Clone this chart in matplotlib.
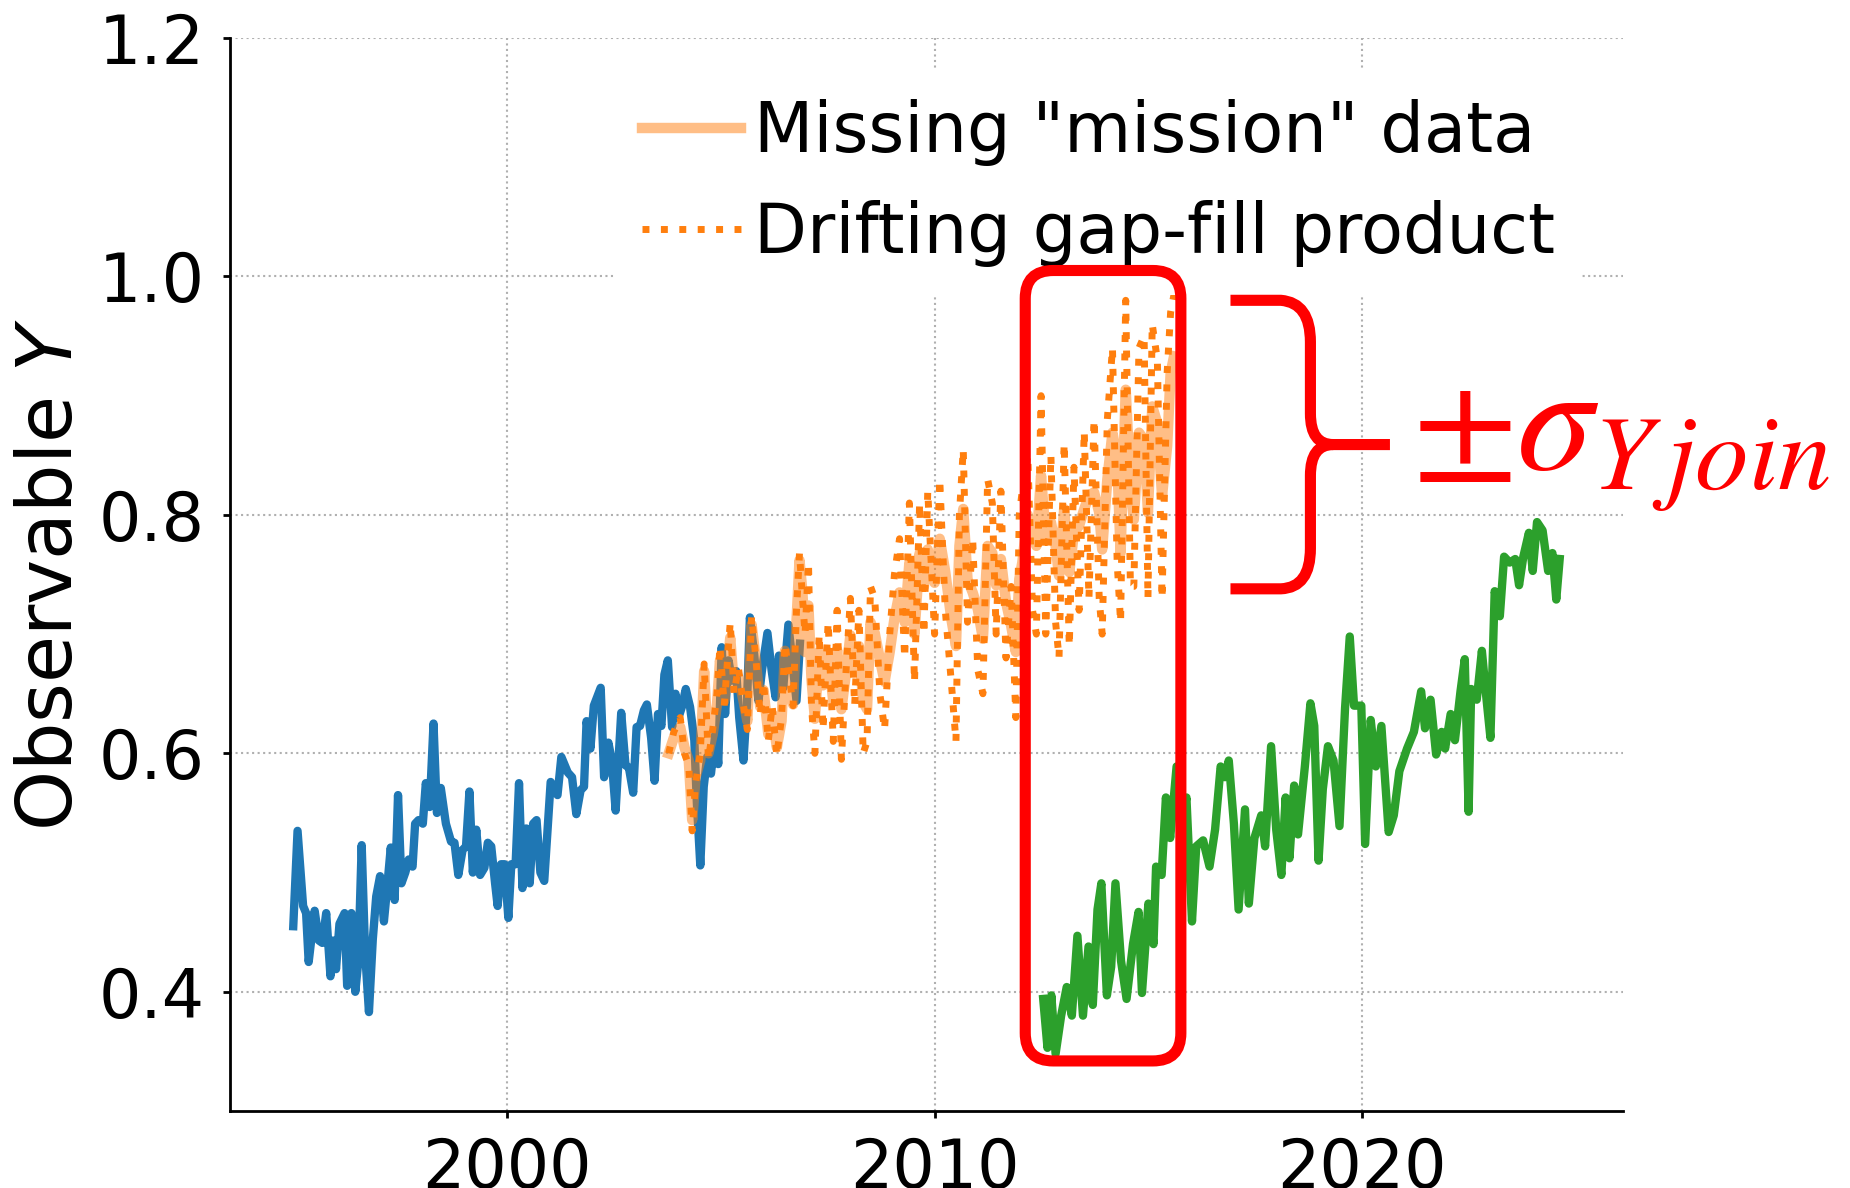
import matplotlib
matplotlib.use("Agg")
import matplotlib.pyplot as plt
from matplotlib.patches import FancyBboxPatch, PathPatch
from matplotlib.path import Path
from matplotlib.ticker import FormatStrFormatter

# early record (blue)
blue_t = [1995.00, 1995.10, 1995.23, 1995.30, 1995.36, 1995.50, 1995.60, 1995.68, 1995.77, 1995.87,
          1995.93, 1996.00, 1996.08, 1996.20, 1996.26, 1996.36, 1996.45, 1996.52, 1996.60, 1996.68,
          1996.77, 1996.86, 1996.94, 1997.03, 1997.12, 1997.20, 1997.28, 1997.37, 1997.45, 1997.53,
          1997.62, 1997.70, 1997.79, 1997.85, 1997.93, 1998.03, 1998.10, 1998.19, 1998.28, 1998.36,
          1998.45, 1998.57, 1998.69, 1998.77, 1998.86, 1998.96, 1999.04, 1999.12, 1999.20, 1999.28,
          1999.37, 1999.47, 1999.55, 1999.63, 1999.72, 1999.78, 1999.86, 1999.94, 2000.03, 2000.10,
          2000.20, 2000.28, 2000.36, 2000.45, 2000.53, 2000.61, 2000.69, 2000.78, 2000.87, 2001.02,
          2001.18, 2001.27, 2001.42, 2001.52, 2001.62, 2001.72, 2001.80, 2001.86, 2001.95, 2002.03,
          2002.19, 2002.27, 2002.37, 2002.45, 2002.54, 2002.67, 2002.77, 2002.85, 2002.95, 2003.03,
          2003.11, 2003.20, 2003.27, 2003.37, 2003.45, 2003.53, 2003.61, 2003.68, 2003.76, 2003.86,
          2003.94, 2004.01, 2004.09, 2004.18, 2004.28, 2004.38, 2004.44, 2004.52, 2004.60, 2004.68,
          2004.77, 2004.87, 2004.94, 2005.02, 2005.10, 2005.18, 2005.26, 2005.36, 2005.43, 2005.53,
          2005.61, 2005.68, 2005.78, 2005.88, 2005.96, 2006.09, 2006.19, 2006.28, 2006.36, 2006.46,
          2006.58, 2006.67, 2006.77, 2006.85]
blue_y = [0.455, 0.535, 0.472, 0.466, 0.425, 0.468, 0.443, 0.441, 0.466, 0.413,
          0.443, 0.419, 0.457, 0.466, 0.405, 0.466, 0.400, 0.425, 0.523, 0.433,
          0.383, 0.444, 0.480, 0.497, 0.459, 0.489, 0.521, 0.477, 0.565, 0.491,
          0.500, 0.511, 0.505, 0.541, 0.544, 0.541, 0.575, 0.555, 0.625, 0.550,
          0.571, 0.541, 0.526, 0.525, 0.498, 0.519, 0.522, 0.568, 0.500, 0.536,
          0.498, 0.504, 0.525, 0.522, 0.491, 0.472, 0.507, 0.507, 0.462, 0.507,
          0.507, 0.575, 0.487, 0.537, 0.491, 0.541, 0.544, 0.500, 0.493, 0.576,
          0.565, 0.597, 0.584, 0.580, 0.549, 0.569, 0.572, 0.627, 0.604, 0.640,
          0.655, 0.580, 0.609, 0.594, 0.552, 0.634, 0.590, 0.588, 0.567, 0.622,
          0.623, 0.636, 0.641, 0.613, 0.577, 0.633, 0.623, 0.666, 0.678, 0.622,
          0.650, 0.630, 0.639, 0.654, 0.639, 0.611, 0.558, 0.506, 0.572, 0.597,
          0.583, 0.616, 0.591, 0.689, 0.633, 0.678, 0.661, 0.669, 0.630, 0.594,
          0.641, 0.714, 0.683, 0.644, 0.669, 0.701, 0.669, 0.647, 0.682, 0.655,
          0.708, 0.678, 0.644, 0.692]

# gap period: withheld mission data and the drifting gap-fill product
gap_t = [2003.78, 2003.90, 2004.05, 2004.15, 2004.25, 2004.33, 2004.41, 2004.52, 2004.61, 2004.71,
         2004.81, 2004.91, 2004.98, 2005.08, 2005.22, 2005.31, 2005.41, 2005.53, 2005.62, 2005.72,
         2005.82, 2005.92, 2006.00, 2006.11, 2006.20, 2006.31, 2006.42, 2006.50, 2006.60, 2006.69,
         2006.77, 2006.84, 2006.91, 2006.97, 2007.05, 2007.12, 2007.20, 2007.30, 2007.39, 2007.51,
         2007.63, 2007.72, 2007.82, 2007.93, 2008.03, 2008.13, 2008.23, 2008.33, 2008.42, 2008.50,
         2008.60, 2008.72, 2008.83, 2008.95, 2009.06, 2009.18, 2009.30, 2009.41, 2009.53, 2009.65,
         2009.75, 2009.84, 2010.00, 2010.12, 2010.25, 2010.39, 2010.50, 2010.58, 2010.67, 2010.77,
         2010.89, 2011.01, 2011.13, 2011.24, 2011.35, 2011.44, 2011.55, 2011.67, 2011.79, 2011.90,
         2011.98, 2012.05, 2012.18, 2012.29, 2012.38, 2012.49, 2012.60, 2012.72, 2012.83, 2012.91,
         2013.03, 2013.15, 2013.26, 2013.38, 2013.50, 2013.61, 2013.73, 2013.85, 2013.92, 2014.04,
         2014.16, 2014.27, 2014.35, 2014.47, 2014.58, 2014.66, 2014.78, 2014.90, 2014.99, 2015.09,
         2015.21, 2015.32, 2015.44, 2015.52, 2015.60]
mission_y = [0.600, 0.613, 0.622, 0.605, 0.594, 0.544, 0.580, 0.594, 0.669, 0.600,
             0.616, 0.641, 0.678, 0.644, 0.697, 0.655, 0.664, 0.644, 0.627, 0.708,
             0.678, 0.639, 0.653, 0.616, 0.633, 0.605, 0.627, 0.686, 0.669, 0.641,
             0.711, 0.762, 0.735, 0.685, 0.724, 0.662, 0.629, 0.685, 0.657, 0.685,
             0.643, 0.687, 0.637, 0.668, 0.699, 0.668, 0.690, 0.643, 0.637, 0.710,
             0.701, 0.679, 0.660, 0.685, 0.713, 0.735, 0.710, 0.760, 0.700, 0.768,
             0.740, 0.771, 0.743, 0.780, 0.752, 0.713, 0.690, 0.774, 0.805, 0.746,
             0.735, 0.721, 0.696, 0.774, 0.768, 0.741, 0.763, 0.727, 0.707, 0.685,
             0.746, 0.760, 0.800, 0.780, 0.774, 0.833, 0.780, 0.794, 0.774, 0.749,
             0.805, 0.752, 0.785, 0.791, 0.805, 0.816, 0.819, 0.802, 0.771, 0.830,
             0.869, 0.847, 0.768, 0.905, 0.824, 0.796, 0.869, 0.863, 0.802, 0.891,
             0.877, 0.816, 0.858, 0.919, 0.933]
product_y = [0.600, 0.618, 0.630, 0.600, 0.590, 0.535, 0.575, 0.600, 0.675, 0.595,
             0.620, 0.650, 0.690, 0.640, 0.710, 0.650, 0.672, 0.640, 0.620, 0.715,
             0.680, 0.632, 0.660, 0.610, 0.640, 0.598, 0.630, 0.692, 0.665, 0.640,
             0.720, 0.768, 0.730, 0.700, 0.760, 0.640, 0.600, 0.700, 0.620, 0.710,
             0.610, 0.720, 0.595, 0.670, 0.730, 0.640, 0.720, 0.600, 0.610, 0.740,
             0.730, 0.650, 0.620, 0.700, 0.750, 0.780, 0.680, 0.810, 0.660, 0.810,
             0.700, 0.820, 0.700, 0.830, 0.720, 0.660, 0.610, 0.800, 0.855, 0.710,
             0.780, 0.670, 0.650, 0.830, 0.810, 0.700, 0.820, 0.680, 0.740, 0.630,
             0.800, 0.820, 0.850, 0.720, 0.700, 0.900, 0.700, 0.850, 0.710, 0.680,
             0.860, 0.690, 0.840, 0.720, 0.870, 0.730, 0.880, 0.730, 0.700, 0.880,
             0.940, 0.760, 0.710, 0.980, 0.740, 0.740, 0.940, 0.950, 0.730, 0.960,
             0.930, 0.730, 0.920, 0.970, 0.985]

# later record (green)
green_t = [2012.54, 2012.64, 2012.73, 2012.83, 2012.96, 2013.09, 2013.21, 2013.34, 2013.47, 2013.60,
           2013.70, 2013.81, 2013.90, 2014.03, 2014.13, 2014.23, 2014.36, 2014.49, 2014.64, 2014.77,
           2014.85, 2015.00, 2015.12, 2015.18, 2015.31, 2015.41, 2015.51, 2015.66, 2015.78, 2015.89,
           2016.02, 2016.12, 2016.28, 2016.43, 2016.56, 2016.69, 2016.79, 2016.88, 2017.00, 2017.11,
           2017.26, 2017.35, 2017.48, 2017.64, 2017.73, 2017.87, 2017.99, 2018.11, 2018.21, 2018.30,
           2018.41, 2018.50, 2018.66, 2018.79, 2018.88, 2018.98, 2019.08, 2019.20, 2019.33, 2019.47,
           2019.60, 2019.71, 2019.81, 2019.98, 2020.07, 2020.20, 2020.32, 2020.45, 2020.62, 2020.74,
           2020.87, 2021.05, 2021.21, 2021.38, 2021.47, 2021.60, 2021.73, 2021.86, 2021.94, 2022.07,
           2022.17, 2022.30, 2022.40, 2022.49, 2022.55, 2022.68, 2022.80, 2022.89, 2023.00, 2023.10,
           2023.22, 2023.32, 2023.45, 2023.58, 2023.67, 2023.77, 2023.90, 2023.99, 2024.09, 2024.22,
           2024.35, 2024.45, 2024.54, 2024.62]
green_y = [0.394, 0.353, 0.397, 0.348, 0.380, 0.404, 0.380, 0.447, 0.380, 0.438,
           0.389, 0.469, 0.491, 0.397, 0.421, 0.491, 0.426, 0.394, 0.440, 0.467,
           0.399, 0.474, 0.440, 0.505, 0.498, 0.563, 0.529, 0.589, 0.540, 0.563,
           0.459, 0.522, 0.527, 0.505, 0.536, 0.589, 0.580, 0.594, 0.541, 0.469,
           0.553, 0.474, 0.529, 0.548, 0.522, 0.606, 0.536, 0.498, 0.563, 0.512,
           0.573, 0.532, 0.589, 0.642, 0.623, 0.510, 0.570, 0.606, 0.594, 0.539,
           0.638, 0.698, 0.640, 0.640, 0.524, 0.628, 0.589, 0.623, 0.534, 0.548,
           0.585, 0.604, 0.618, 0.652, 0.621, 0.645, 0.599, 0.618, 0.604, 0.633,
           0.611, 0.652, 0.679, 0.551, 0.654, 0.645, 0.686, 0.652, 0.613, 0.736,
           0.715, 0.765, 0.760, 0.763, 0.741, 0.765, 0.785, 0.753, 0.794, 0.787,
           0.753, 0.768, 0.729, 0.763]

y_ticks = [0.4, 0.6, 0.8, 1.0, 1.2]
x_ticks = [2000, 2010, 2020]

FIG_W, FIG_H = 1850, 1188
fig = plt.figure(figsize=(FIG_W / 100, FIG_H / 100), dpi=100)
ax = fig.add_axes([0.1243, 0.0648, 0.7530, 0.9032])

ax.plot(blue_t, blue_y, color="tab:blue", lw=6, zorder=2)
ax.plot(gap_t, mission_y, color="tab:orange", alpha=0.5, lw=7.5, zorder=3,
        label='Missing "mission" data')
ax.plot(gap_t, product_y, color="tab:orange", ls=":", lw=5, zorder=4,
        label="Drifting gap-fill product")
ax.plot(green_t, green_y, color="tab:green", lw=6, zorder=2)

ax.set_ylim(0.3, 1.2)
ax.set_xlim(ax.get_xlim())
ax.set_yticks(y_ticks)
ax.set_xticks(x_ticks)
ax.yaxis.set_major_formatter(FormatStrFormatter("%.1f"))
ax.tick_params(labelsize=48, length=5, width=2, pad=13)
ax.grid(True, ls=":", color="#b0b0b0", lw=1.5)
ax.set_axisbelow(True)
for side in ("top", "right"):
    ax.spines[side].set_visible(False)
for side in ("left", "bottom"):
    ax.spines[side].set_linewidth(2)

ax.set_ylabel("Observable $Y$", fontsize=55, labelpad=8)

ax.legend(loc="upper left", bbox_to_anchor=(0.2757, 0.9690), fontsize=49.5,
          frameon=True, framealpha=1, facecolor="white", edgecolor="none",
          fancybox=False, borderpad=0.4, labelspacing=0.5, handlelength=1.45,
          handletextpad=0.18, borderaxespad=0)

# rounded box around the overlap years (kept round in pixel space)
x0, x1 = ax.get_xlim()
y0, y1 = ax.get_ylim()
px_x = 0.7530 * FIG_W / (x1 - x0)
px_y = 0.9032 * FIG_H / (y1 - y0)
box = FancyBboxPatch((2012.12, 0.342), 2015.76 - 2012.12, 1.005 - 0.342,
                     boxstyle=f"round,pad=0,rounding_size={28 / px_x}",
                     mutation_aspect=px_x / px_y, fill=False, ec="red", lw=8,
                     transform=ax.transData, clip_on=False, zorder=6)
ax.add_patch(box)

# curly brace marking the spread of the gap-fill product
verts = [(2016.92, 0.980), (2018.10, 0.980), (2018.79, 0.978), (2018.79, 0.945),
         (2018.79, 0.885), (2018.79, 0.859), (2019.32, 0.859), (2020.65, 0.859),
         (2019.32, 0.859), (2018.79, 0.859), (2018.79, 0.833),
         (2018.79, 0.772), (2018.79, 0.739), (2018.10, 0.738), (2016.92, 0.738)]
codes = [Path.MOVETO, Path.LINETO, Path.CURVE3, Path.CURVE3,
         Path.LINETO, Path.CURVE3, Path.CURVE3, Path.LINETO,
         Path.MOVETO, Path.CURVE3, Path.CURVE3,
         Path.LINETO, Path.CURVE3, Path.CURVE3, Path.LINETO]
brace = PathPatch(Path(verts, codes), fill=False, ec="red", lw=8,
                  capstyle="butt", joinstyle="round",
                  transform=ax.transData, clip_on=False, zorder=6)
ax.add_patch(brace)

fig.text(1412 / FIG_W, 1 - 470 / FIG_H, r"$\pm\sigma_{Y\,join}$", color="red",
         fontsize=110, math_fontfamily="stix", ha="left", va="baseline")

fig.savefig("out.png", dpi=100)
